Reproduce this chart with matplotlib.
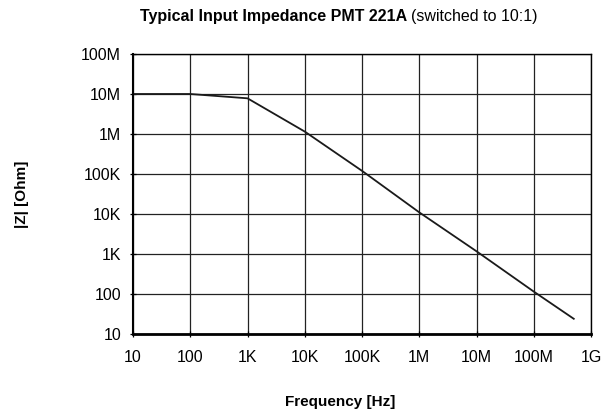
import numpy as np
import matplotlib
matplotlib.use('Agg')
import matplotlib.pyplot as plt

plt.rcParams['font.family'] = ['Liberation Sans', 'DejaVu Sans']

# impedance curve
freq = [10, 100, 1e3, 1e4, 1e5, 1e6, 1e7, 1e8, 5e8]
imp = [10e6, 10e6, 7.8e6, 1.15e6, 1.2e5, 1.1e4, 1.17e3, 115, 24]

xticks = [10, 100, 1e3, 1e4, 1e5, 1e6, 1e7, 1e8, 1e9]
xlabels = ['10', '100', '1K', '10K', '100K', '1M', '10M', '100M', '1G']
yticks = [10, 100, 1e3, 1e4, 1e5, 1e6, 1e7, 1e8]
ylabels = ['10', '100', '1K', '10K', '100K', '1M', '10M', '100M']

fig = plt.figure(figsize=(6.02, 4.16), dpi=100)
ax = fig.add_axes([133/602, 1-334/416, (591-133)/602, (334-54)/416])

ax.plot(freq, imp, color='#1a1a1a', lw=1.3)
ax.set_xscale('log')
ax.set_yscale('log')
ax.set_xlim(10, 1e9)
ax.set_ylim(10, 1e8)
ax.set_xticks(xticks)
ax.set_xticklabels(xlabels)
ax.set_yticks(yticks)
ax.set_yticklabels(ylabels)
ax.minorticks_off()
ax.grid(True, color='#222222', lw=0.9)
ax.tick_params(labelsize=11.5, length=5, width=0.9, direction='inout', pad=6)
ax.tick_params(axis='x', pad=9)
for s in ax.spines.values():
    s.set_linewidth(1.0)
ax.spines['bottom'].set_linewidth(2.0)
ax.spines['left'].set_linewidth(1.5)

fig.text(340/602, 1-402/416, 'Frequency [Hz]', ha='center', va='center',
         fontsize=11, fontweight='bold')
fig.text(22/602, 1-194/416, '|Z| [Ohm]', ha='center', va='center',
         rotation=90, fontsize=11, fontweight='bold')

# title: bold part then normal part
t1 = fig.text(140/602, 1-17/416, 'Typical Input Impedance PMT 221A', ha='left',
              va='center', fontsize=11.5, fontweight='bold')
fig.canvas.draw()
bb = t1.get_window_extent()
fig.text((bb.x1 + 4)/602, 1-17/416, '(switched to 10:1)', ha='left',
         va='center', fontsize=11.5)

fig.savefig('out.png', dpi=100)
